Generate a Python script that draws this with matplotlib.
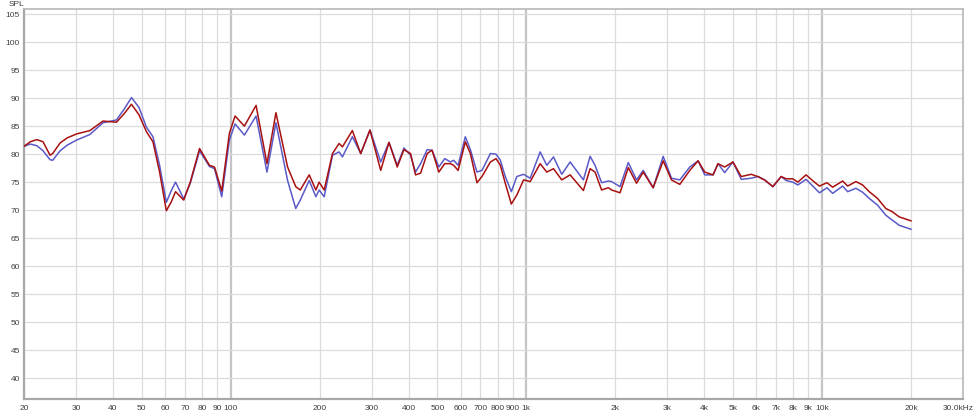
import numpy as np
import matplotlib
matplotlib.use("Agg")
import matplotlib.pyplot as plt
from matplotlib.transforms import ScaledTranslation

# frequency (Hz) and SPL (dB)
freq = [20, 21, 22.1, 23.2, 24.5, 25, 26.5, 28, 30.1, 33.4, 37, 41.1, 43.6, 46.2, 49,
        51.9, 54.6, 57.5, 60.6, 63, 65.1, 69.4, 73, 78.5, 84.8, 88.2, 93.3, 99, 103.5,
        111.3, 121.9, 132.7, 142.3, 155.8, 166, 172, 184.4, 194.2, 199.2, 207.2, 221,
        232.7, 238.8, 258, 275.4, 296, 321.8, 343.2, 366, 385.6, 406, 422, 439, 462,
        480, 506, 530, 554, 568, 588, 622, 647, 681, 708, 756, 790, 817, 849, 890, 929,
        979, 1031, 1114, 1173, 1236, 1318, 1407, 1560, 1644, 1708, 1798, 1894, 1944,
        2075, 2213, 2360, 2486, 2686, 2904, 3098, 3306, 3573, 3811, 4014, 4282, 4452,
        4688, 5000, 5334, 5764, 6072, 6396, 6824, 7278, 7566, 7970, 8286, 8838, 9432,
        9806, 10400, 10870, 11750, 12214, 13028, 13724, 14456, 15418, 16444, 17324,
        18250, 20000]
spl_red = [81.4, 82.2, 82.6, 82.2, 79.8, 80.1, 82.0, 82.9, 83.6, 84.2, 85.9, 85.7, 87.2,
           88.9, 87.0, 84.0, 82.2, 76.8, 69.9, 71.5, 73.3, 71.8, 75.0, 81.0, 78.0, 77.7,
           73.4, 83.7, 86.8, 85.0, 88.7, 78.3, 87.4, 77.7, 74.2, 73.6, 76.3, 73.6, 75.0,
           73.6, 80.1, 81.9, 81.3, 84.2, 80.1, 84.3, 77.1, 82.1, 77.7, 80.8, 80.1, 76.3,
           76.6, 80.1, 80.7, 76.8, 78.3, 78.3, 78.0, 77.1, 82.2, 80.1, 74.9, 76.0, 78.6,
           79.2, 78.0, 74.8, 71.1, 72.7, 75.4, 75.1, 78.3, 76.8, 77.4, 75.4, 76.3, 73.5,
           77.4, 76.8, 73.6, 74.0, 73.6, 73.1, 77.6, 74.8, 76.8, 74.0, 78.8, 75.4, 74.6,
           77.1, 78.8, 76.8, 76.3, 78.3, 77.7, 78.6, 76.0, 76.4, 76.0, 75.4, 74.2, 76.0,
           75.6, 75.6, 75.0, 76.3, 75.0, 74.3, 74.9, 74.1, 75.2, 74.3, 75.1, 74.5, 73.3,
           72.1, 70.3, 69.7, 68.8, 68.1]
spl_blue = [81.4, 81.8, 81.5, 80.6, 79.0, 78.9, 80.6, 81.6, 82.5, 83.5, 85.6, 86.1, 88.0,
            90.1, 88.3, 84.8, 83.1, 78.0, 71.4, 73.5, 75.0, 72.0, 74.8, 80.6, 77.8, 77.4,
            72.4, 82.5, 85.4, 83.4, 86.8, 76.8, 85.6, 75.3, 70.3, 71.8, 75.3, 72.4, 73.6,
            72.4, 79.8, 80.4, 79.5, 83.1, 80.1, 84.3, 78.6, 82.1, 78.0, 81.1, 79.8, 76.8,
            78.3, 80.8, 80.7, 77.7, 79.2, 78.6, 78.9, 78.0, 83.1, 80.8, 76.8, 77.1, 80.1,
            80.0, 78.9, 76.0, 73.3, 76.0, 76.4, 75.7, 80.4, 78.0, 79.5, 76.4, 78.6, 75.4,
            79.6, 78.0, 74.9, 75.2, 75.1, 74.2, 78.5, 75.4, 77.1, 74.0, 79.6, 75.7, 75.4,
            77.7, 78.8, 76.3, 76.3, 78.3, 76.7, 78.6, 75.5, 75.7, 76.0, 75.4, 74.2, 76.0,
            75.3, 75.0, 74.5, 75.5, 74.0, 73.1, 74.0, 73.0, 74.3, 73.3, 73.9, 73.2, 72.1,
            70.9, 69.1, 68.2, 67.3, 66.6]

xticks = [20, 30, 40, 50, 60, 70, 80, 90, 100, 200, 300, 400, 500, 600, 700, 800, 900,
          1000, 2000, 3000, 4000, 5000, 6000, 7000, 8000, 9000, 10000, 20000, 30000]
xlabels = ["20", "30", "40", "50", "60", "70", "80", "90", "100", "200", "300", "400",
           "500", "600", "700", "800", "900", "1k", "2k", "3k", "4k", "5k", "6k", "7k",
           "8k", "9k", "10k", "20k", "30.0kHz"]
yticks = list(range(40, 106, 5))

plt.rcParams["font.family"] = ["Liberation Sans", "DejaVu Sans"]

fig = plt.figure(figsize=(9.75, 4.13), dpi=100)
ax = fig.add_axes([24/975, 1-399/413, (963-24)/975, (399-9)/413])
ax.set_xscale("log")
ax.set_xlim(20, 30000)
ax.set_ylim(36.3, 105.9)

# grid
for f in xticks[:-1]:
    if f in (100, 1000, 10000):
        ax.axvline(f, color="#c4c4c4", lw=1.6, zorder=1)
    else:
        ax.axvline(f, color="#dcdcdc", lw=0.9, zorder=1)
for v in yticks:
    ax.axhline(v, color="#dcdcdc", lw=0.9, zorder=1)

ax.plot(freq, spl_blue, color="#5a5ac8", lw=1.1, zorder=3)
ax.plot(freq, spl_red, color="#a81010", lw=1.1, zorder=4)

ax.set_xticks(xticks)
ax.set_xticklabels(xlabels)
ax.xaxis.set_minor_locator(matplotlib.ticker.NullLocator())
ax.set_yticks(yticks)
ax.tick_params(length=0, labelsize=6, labelcolor="#404040", pad=4)
ax.tick_params(axis="y", pad=3)
last = ax.get_xticklabels()[-1]
last.set_transform(last.get_transform() + ScaledTranslation(-5/100, 0, fig.dpi_scale_trans))

for s in ["left", "bottom"]:
    ax.spines[s].set_color("#a8a8a8")
    ax.spines[s].set_linewidth(1.6)
for s in ["top", "right"]:
    ax.spines[s].set_color("#b8b8b8")
    ax.spines[s].set_linewidth(1.2)

fig.text(9/975, 1-4.5/413, "SPL", fontsize=6, color="#404040", va="center", ha="left")

plt.savefig("out.png", dpi=100)
